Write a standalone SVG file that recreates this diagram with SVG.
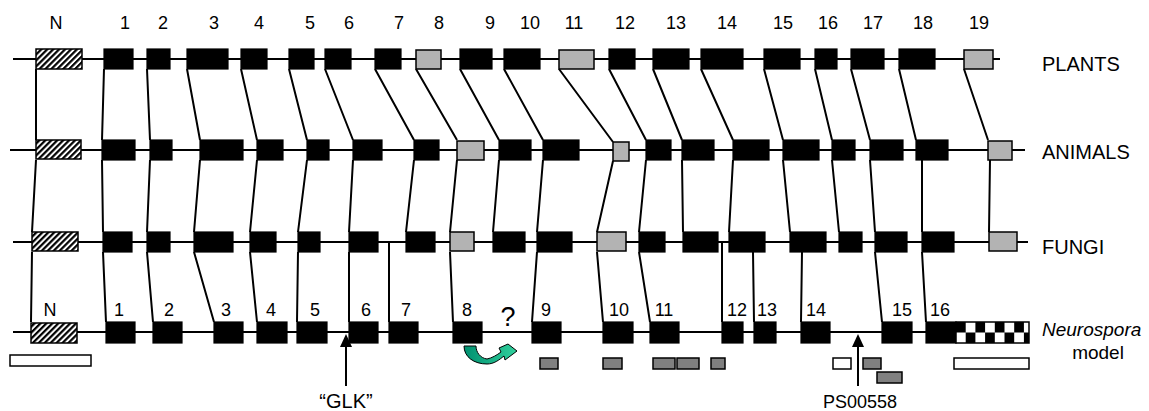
<svg xmlns="http://www.w3.org/2000/svg" width="1149" height="411" viewBox="0 0 1149 411">
<style>
.blk{fill:#000;stroke:#000;stroke-width:1.2}
.gry{fill:#b3b3b3;stroke:#000;stroke-width:1.5}
.hat{fill:url(#hatch);stroke:#000;stroke-width:1.5}
.chk{fill:url(#checker);stroke:#000;stroke-width:1.5}
.wht{fill:#fff;stroke:#000;stroke-width:1.5}
.dgr{fill:#808080;stroke:#000;stroke-width:1.5}
.ln{stroke:#000;stroke-width:2;fill:none}
text{font-family:"Liberation Sans",Arial,sans-serif;fill:#000}
.num{font-size:18px;text-anchor:middle}
.lab{font-size:20px}
</style>
<defs>
<pattern id="hatch" width="4.2" height="4.2" patternUnits="userSpaceOnUse" patternTransform="rotate(45)">
<rect width="4.2" height="4.2" fill="#fff"/><rect width="2.2" height="4.2" fill="#000"/>
</pattern>
<pattern id="checker" x="956" y="322" width="19.4" height="21" patternUnits="userSpaceOnUse">
<rect width="19.4" height="21" fill="#fff"/>
<rect width="9.7" height="10.5" fill="#000"/>
<rect x="9.7" y="10.5" width="9.7" height="10.5" fill="#000"/>
</pattern>
<linearGradient id="grn" x1="0" y1="0" x2="1" y2="0">
<stop offset="0" stop-color="#009070"/><stop offset="1" stop-color="#30d09c"/>
</linearGradient>
</defs>

<g id="row-lines" class="ln">
<path d="M13 59H1000M10 150H1025M13 242H1028M13 332H956"/>
</g>

<g id="connectors" class="ln">
<path d="M36 69L36 140M104 69L102 140M147 69L150 140M187 69L200 140M241 69L257 140M289 69L307 140M325 69L353 140M375 69L414 140M416 69L457 140M460 69L499 140M504 69L543 140M559 69L613 142M609 69L646 140M653 69L682 140M701 69L733 140M764 69L783 140M815 69L832 140M851 69L870 140M899 69L916 140M964 69L988 140"/>
<path d="M36 160L32 232M102 160L103 232M150 160L147 232M200 160L194 232M257 160L250 232M307 160L298 232M353 160L349 232M414 160L406 232M457 160L450 232M499 160L493 232M543 160L537 232M613 161L597 232M646 160L639 232M682 160L683 232M733 160L729 232M783 160L790 232M832 160L839 232M870 160L875 232M922 160L922 232M990 160L989 232"/>
<path d="M32 252L31 322M103 252L106 322M147 252L153 322M194 252L214 322M250 252L257 322M298 252L297 322M349 252L349 322M389 242L389 322M450 252L453 322M537 252L532 322M597 252L603 322M639 252L650 322M722 242L722 322M753 252L754 322M802 252L801 322M875 252L882 322M922 252L926 322"/>
</g>

<g id="plants">
<g id="p-N"><rect class="hat" x="36" y="49" width="46" height="20"/></g>
<g id="p-1"><rect class="blk" x="104" y="49" width="29" height="20"/></g>
<g id="p-2"><rect class="blk" x="147" y="49" width="23" height="20"/></g>
<g id="p-3"><rect class="blk" x="187" y="49" width="41" height="20"/></g>
<g id="p-4"><rect class="blk" x="241" y="49" width="26" height="20"/></g>
<g id="p-5"><rect class="blk" x="289" y="49" width="25" height="20"/></g>
<g id="p-6"><rect class="blk" x="325" y="49" width="26" height="20"/></g>
<g id="p-7"><rect class="blk" x="375" y="49" width="26" height="20"/></g>
<g id="p-8"><rect class="gry" x="416" y="50" width="25" height="19"/></g>
<g id="p-9"><rect class="blk" x="460" y="49" width="32" height="20"/></g>
<g id="p-10"><rect class="blk" x="504" y="49" width="36" height="20"/></g>
<g id="p-11"><rect class="gry" x="559" y="50" width="35" height="19"/></g>
<g id="p-12"><rect class="blk" x="609" y="49" width="26" height="20"/></g>
<g id="p-13"><rect class="blk" x="653" y="49" width="36" height="20"/></g>
<g id="p-14"><rect class="blk" x="701" y="49" width="42" height="20"/></g>
<g id="p-15"><rect class="blk" x="764" y="49" width="36" height="20"/></g>
<g id="p-16"><rect class="blk" x="815" y="49" width="22" height="20"/></g>
<g id="p-17"><rect class="blk" x="851" y="49" width="33" height="20"/></g>
<g id="p-18"><rect class="blk" x="899" y="49" width="36" height="20"/></g>
<g id="p-19"><rect class="gry" x="964" y="50" width="29" height="19"/></g>
</g>

<g id="animals">
<g id="a-N"><rect class="hat" x="36" y="140" width="45" height="19"/></g>
<g id="a-1"><rect class="blk" x="102" y="140" width="33" height="20"/></g>
<g id="a-2"><rect class="blk" x="150" y="140" width="22" height="20"/></g>
<g id="a-3"><rect class="blk" x="200" y="140" width="43" height="20"/></g>
<g id="a-4"><rect class="blk" x="257" y="140" width="26" height="20"/></g>
<g id="a-5"><rect class="blk" x="307" y="140" width="22" height="20"/></g>
<g id="a-6"><rect class="blk" x="353" y="140" width="29" height="20"/></g>
<g id="a-7"><rect class="blk" x="414" y="140" width="25" height="20"/></g>
<g id="a-8"><rect class="gry" x="457" y="141" width="27" height="19"/></g>
<g id="a-9"><rect class="blk" x="499" y="140" width="32" height="20"/></g>
<g id="a-10"><rect class="blk" x="543" y="140" width="36" height="20"/></g>
<g id="a-11"><rect class="gry" x="613" y="142" width="16" height="19"/></g>
<g id="a-12"><rect class="blk" x="646" y="140" width="25" height="20"/></g>
<g id="a-13"><rect class="blk" x="682" y="140" width="32" height="20"/></g>
<g id="a-14"><rect class="blk" x="733" y="140" width="36" height="20"/></g>
<g id="a-15"><rect class="blk" x="783" y="140" width="36" height="20"/></g>
<g id="a-16"><rect class="blk" x="832" y="140" width="23" height="20"/></g>
<g id="a-17"><rect class="blk" x="870" y="140" width="33" height="20"/></g>
<g id="a-18"><rect class="blk" x="916" y="140" width="32" height="20"/></g>
<g id="a-19"><rect class="gry" x="988" y="141" width="24" height="19"/></g>
</g>

<g id="fungi">
<g id="f-N"><rect class="hat" x="32" y="232" width="46" height="19"/></g>
<g id="f-1"><rect class="blk" x="103" y="232" width="29" height="20"/></g>
<g id="f-2"><rect class="blk" x="147" y="232" width="23" height="20"/></g>
<g id="f-3"><rect class="blk" x="194" y="232" width="39" height="20"/></g>
<g id="f-4"><rect class="blk" x="250" y="232" width="26" height="20"/></g>
<g id="f-5"><rect class="blk" x="298" y="232" width="22" height="20"/></g>
<g id="f-6"><rect class="blk" x="349" y="232" width="29" height="20"/></g>
<g id="f-7"><rect class="blk" x="406" y="232" width="29" height="20"/></g>
<g id="f-8"><rect class="gry" x="450" y="232" width="24" height="19"/></g>
<g id="f-9"><rect class="blk" x="493" y="232" width="32" height="20"/></g>
<g id="f-10"><rect class="blk" x="537" y="232" width="35" height="20"/></g>
<g id="f-11"><rect class="gry" x="597" y="232" width="29" height="19"/></g>
<g id="f-12"><rect class="blk" x="639" y="232" width="26" height="20"/></g>
<g id="f-13"><rect class="blk" x="683" y="232" width="35" height="20"/></g>
<g id="f-14"><rect class="blk" x="729" y="232" width="36" height="20"/></g>
<g id="f-15"><rect class="blk" x="790" y="232" width="36" height="20"/></g>
<g id="f-16"><rect class="blk" x="839" y="232" width="23" height="20"/></g>
<g id="f-17"><rect class="blk" x="875" y="232" width="32" height="20"/></g>
<g id="f-18"><rect class="blk" x="922" y="232" width="32" height="20"/></g>
<g id="f-19"><rect class="gry" x="989" y="232" width="28" height="19"/></g>
</g>

<g id="neurospora">
<g id="n-N"><rect class="hat" x="31" y="323" width="46" height="20"/></g>
<g id="n-1"><rect class="blk" x="106" y="322" width="29" height="21"/></g>
<g id="n-2"><rect class="blk" x="153" y="322" width="29" height="21"/></g>
<g id="n-3"><rect class="blk" x="214" y="322" width="29" height="21"/></g>
<g id="n-4"><rect class="blk" x="257" y="322" width="30" height="21"/></g>
<g id="n-5"><rect class="blk" x="297" y="322" width="30" height="21"/></g>
<g id="n-6"><rect class="blk" x="349" y="322" width="29" height="21"/></g>
<g id="n-7"><rect class="blk" x="389" y="322" width="29" height="21"/></g>
<g id="n-8"><rect class="blk" x="453" y="322" width="29" height="21"/></g>
<g id="n-9"><rect class="blk" x="532" y="322" width="29" height="21"/></g>
<g id="n-10"><rect class="blk" x="603" y="322" width="30" height="21"/></g>
<g id="n-11"><rect class="blk" x="650" y="322" width="29" height="21"/></g>
<g id="n-12"><rect class="blk" x="722" y="322" width="21" height="21"/></g>
<g id="n-13"><rect class="blk" x="754" y="322" width="22" height="21"/></g>
<g id="n-14"><rect class="blk" x="801" y="322" width="29" height="21"/></g>
<g id="n-15"><rect class="blk" x="882" y="322" width="30" height="21"/></g>
<g id="n-16"><rect class="blk" x="926" y="322" width="30" height="21"/></g>
<g id="n-tail"><rect class="chk" x="956" y="322" width="73" height="21"/></g>
</g>

<g id="features">
<rect class="wht" x="10" y="355" width="81" height="11"/>
<rect class="dgr" x="540" y="358" width="18" height="11"/>
<rect class="dgr" x="603" y="358" width="19" height="11"/>
<rect class="dgr" x="653" y="358" width="22" height="11"/>
<rect class="dgr" x="677" y="358" width="22" height="11"/>
<rect class="dgr" x="711" y="358" width="14" height="11"/>
<rect class="wht" x="833" y="358" width="18" height="11"/>
<rect class="dgr" x="863" y="358" width="18" height="11"/>
<rect class="dgr" x="877" y="372" width="25" height="11"/>
<rect class="wht" x="954" y="358" width="75" height="11"/>
</g>

<g id="glk-arrow">
<path class="ln" d="M346 386V345"/>
<polygon points="346,334 340,347 352,347" fill="#000"/>
<text class="lab" x="346" y="408" text-anchor="middle">“GLK”</text>
</g>
<g id="ps-arrow">
<path class="ln" d="M858 386V345"/>
<polygon points="858,334 852,347 864,347" fill="#000"/>
<text class="num" x="860" y="408">PS00558</text>
</g>

<g id="swap-arrow">
<path d="M464,346 L476,346 C476,352 480,358 487,359 C492,358 497,355 501,352 L499,348 L508,344 L517,351 L505,360 L504,356 C499,360 494,364 487,364 C474,364 464,357 464,346 Z" fill="url(#grn)" stroke="#000" stroke-width="1"/>
</g>

<g id="labels-top" class="num">
<text x="56" y="29">N</text>
<text x="125" y="29">1</text>
<text x="163" y="29">2</text>
<text x="214" y="29">3</text>
<text x="259" y="29">4</text>
<text x="310" y="29">5</text>
<text x="349" y="29">6</text>
<text x="399" y="29">7</text>
<text x="439" y="29">8</text>
<text x="490" y="29">9</text>
<text x="530" y="29">10</text>
<text x="574" y="29">11</text>
<text x="625" y="29">12</text>
<text x="676" y="29">13</text>
<text x="727" y="29">14</text>
<text x="783" y="29">15</text>
<text x="828" y="29">16</text>
<text x="873" y="29">17</text>
<text x="923" y="29">18</text>
<text x="979" y="29">19</text>
</g>

<g id="labels-bottom" class="num">
<text x="50" y="316">N</text>
<text x="119" y="316">1</text>
<text x="169" y="316">2</text>
<text x="226" y="316">3</text>
<text x="271" y="316">4</text>
<text x="315" y="316">5</text>
<text x="366" y="316">6</text>
<text x="406" y="316">7</text>
<text x="467" y="316">8</text>
<text x="508" y="326" style="font-size:27px">?</text>
<text x="546" y="316">9</text>
<text x="619" y="316">10</text>
<text x="664" y="316">11</text>
<text x="737" y="316">12</text>
<text x="767" y="316">13</text>
<text x="816" y="316">14</text>
<text x="902" y="316">15</text>
<text x="940" y="316">16</text>
</g>

<g id="row-labels" class="lab">
<text x="1042" y="71">PLANTS</text>
<text x="1042" y="159">ANIMALS</text>
<text x="1042" y="254">FUNGI</text>
<text x="1042" y="336" font-style="italic" font-size="19">Neurospora</text>
<text x="1098" y="359" text-anchor="middle" font-size="19">model</text>
</g>
</svg>
